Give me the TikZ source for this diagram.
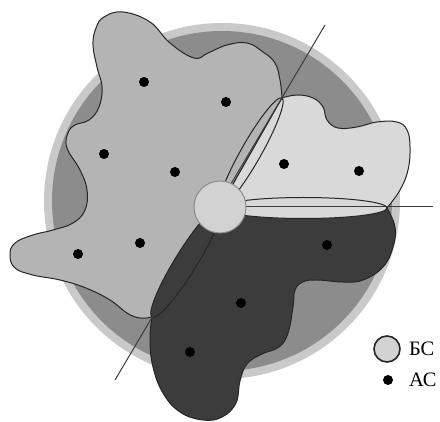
\documentclass[tikz,border=0pt]{standalone}
\usepackage{fontspec}
\setmainfont{Liberation Serif}
\usetikzlibrary{positioning}
\definecolor{ringlight}{HTML}{C9C9C9}
\definecolor{ringdark}{HTML}{8C8C8C}
\definecolor{zonemid}{HTML}{B4B4B4}
\definecolor{zonelight}{HTML}{D9D9D9}
\definecolor{zonedark}{HTML}{3C3C3C}
\definecolor{bsfill}{HTML}{D2D2D2}
\definecolor{edgegray}{HTML}{262626}
\begin{document}
\begin{tikzpicture}[
  x=1pt,y=-1pt,
  zone/.style={draw=edgegray,line width=1pt},
  lobe/.style={draw=edgegray,line width=1pt},
  ray/.style={draw=edgegray!90,line width=1pt},
  bsnode/.style={circle,fill=bsfill,draw=ringdark,line width=1pt,minimum size=52pt,inner sep=0pt},
  msnode/.style={circle,fill=black,minimum size=10pt,inner sep=0pt},
  every node/.style={font=\fontsize{20.5}{24}\selectfont}
]
  \useasboundingbox (0,0) rectangle (440,422);
  \fill[ringlight] (222,201) circle[radius=178pt];
  \fill[ringdark] (222,201) circle[radius=170pt];

  \coordinate (cell) at (220,207);
  \coordinate (ur) at (282,98);
  \coordinate (lr) at (387,208);
  \coordinate (ll) at (152,317);
  \coordinate (rayA) at (325,25);
  \coordinate (rayB) at (115,380);
  \coordinate (rayC) at (433,207);

  \draw[zone,fill=zonemid] (cell) -- plot[smooth,tension=.7] coordinates {
    (ur) (280,80) (275,63) (263,52) (247,43) (227,45) (208,53) (194,58)
    (170,43) (150,22) (123,12) (104,17) (96,28) (93,45) (97,67) (102,87)
    (99,107) (89,120) (75,125) (68,133) (67,148) (80,170) (87,190)
    (85,210) (73,223) (53,230) (33,235) (15,243) (10,255) (15,268)
    (33,275) (60,280) (86,288) (110,300) (127,313) (140,318) (ll)} -- cycle;
  \draw[zone,fill=zonelight] (cell) -- plot[smooth,tension=.7] coordinates {
    (ur) (297,95) (313,98) (323,107) (327,120) (338,128) (357,127)
    (377,122) (397,122) (407,130) (410,147) (408,170) (400,190) (lr)} -- cycle;
  \draw[zone,fill=zonedark] (cell) -- plot[smooth,tension=.7] coordinates {
    (lr) (395,227) (393,247) (383,267) (363,280) (343,282) (317,280)
    (303,282) (295,290) (293,307) (288,333) (279,347) (262,354) (247,364)
    (240,381) (236,403) (222,417) (203,420) (180,412) (163,393)
    (153,367) (150,340) (ll)} -- cycle;

  \draw[lobe,fill=zonelight] (303.5,208) ellipse [x radius=83.5pt,y radius=10.5pt];
  \draw[lobe,fill=zonedark,rotate around={58.3:(186,262)}] (186,262) ellipse [x radius=64.7pt,y radius=11pt];
  \draw[lobe,rotate around={60.4:(251,152.5)}] (251,152.5) ellipse [x radius=62.7pt,y radius=10pt];

  \draw[ray] (rayA) -- (rayB);
  \draw[ray] (cell) -- (rayC);

  \node[bsnode] (bs) at (cell) {};

  \node[msnode] (ms1) at (144,82) {};
  \node[msnode] (ms2) at (226,102) {};
  \node[msnode] (ms3) at (104,154) {};
  \node[msnode] (ms4) at (175,172) {};
  \node[msnode] (ms5) at (284,164) {};
  \node[msnode] (ms6) at (359,171) {};
  \node[msnode] (ms7) at (140,243) {};
  \node[msnode] (ms8) at (78,254) {};
  \node[msnode] (ms9) at (327,245) {};
  \node[msnode] (ms10) at (241,303) {};
  \node[msnode] (ms11) at (190,352) {};

  \node[bsnode,draw=edgegray,line width=1.6pt,minimum size=26pt] (keybs) at (387,349) {};
  \node[right=8pt of keybs,inner sep=0pt] (keybstext) {БС};
  \node[msnode] (keyms) at (388,380) {};
  \node[anchor=west,inner sep=0pt] (keymstext) at (keybstext.west |- keyms) {АС};
\end{tikzpicture}
\end{document}
